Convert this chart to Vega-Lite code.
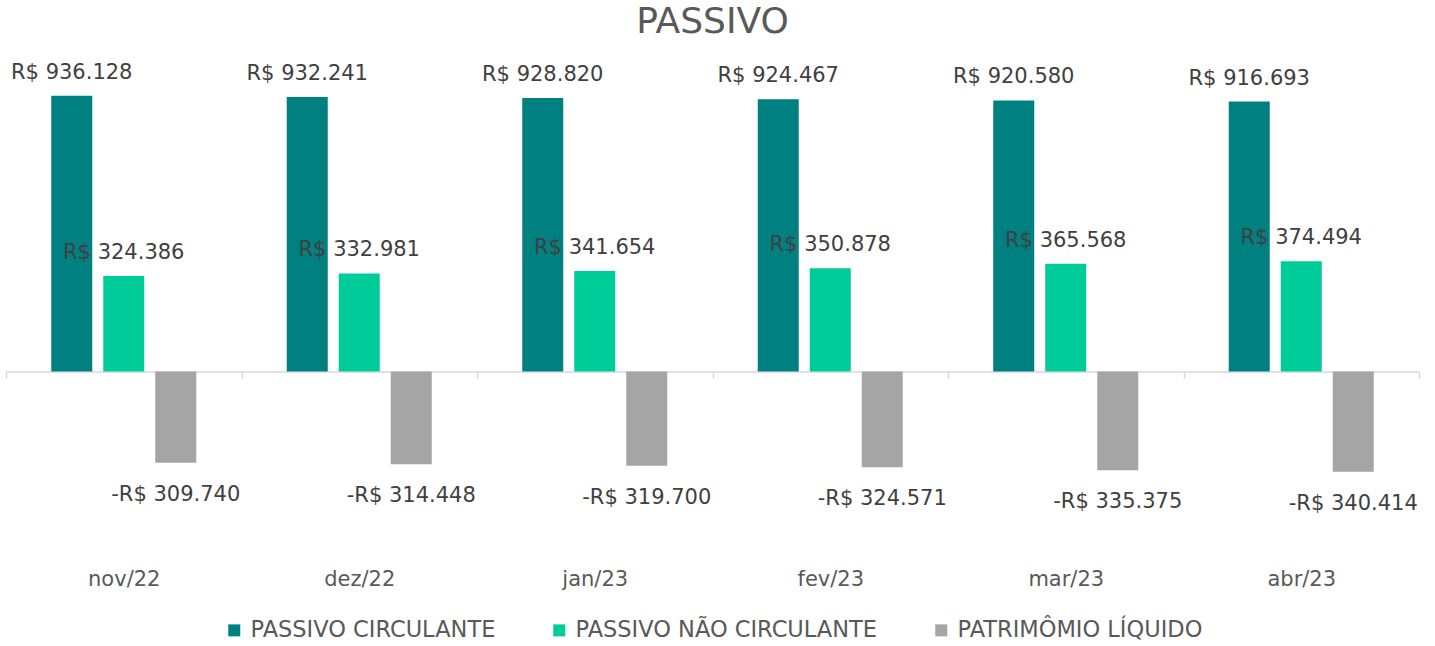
{
  "$schema": "https://vega.github.io/schema/vega-lite/v6.json",
  "autosize": {"type": "none"},
  "width": 1413,
  "height": 486,
  "padding": {"left": 6, "top": 77, "right": 16, "bottom": 83},
  "background": "white",
  "title": {"text": "PASSIVO", "fontSize": 36, "font": "DejaVu Sans", "fontWeight": "normal", "color": "#595959", "baseline": "alphabetic", "offset": -7, "anchor": "middle"},
  "config": {
    "view": {"stroke": null},
    "font": "DejaVu Sans",
    "legend": {"layout": {"bottom": {"anchor": "middle"}}}
  },
  "data": {"values": [
    {"mes": "nov/22", "serie": "PASSIVO CIRCULANTE", "valor": 936128, "rotulo": "R$ 936.128"},
    {"mes": "nov/22", "serie": "PASSIVO NÃO CIRCULANTE", "valor": 324386, "rotulo": "R$ 324.386"},
    {"mes": "nov/22", "serie": "PATRIMÔMIO LÍQUIDO", "valor": -309740, "rotulo": "-R$ 309.740"},
    {"mes": "dez/22", "serie": "PASSIVO CIRCULANTE", "valor": 932241, "rotulo": "R$ 932.241"},
    {"mes": "dez/22", "serie": "PASSIVO NÃO CIRCULANTE", "valor": 332981, "rotulo": "R$ 332.981"},
    {"mes": "dez/22", "serie": "PATRIMÔMIO LÍQUIDO", "valor": -314448, "rotulo": "-R$ 314.448"},
    {"mes": "jan/23", "serie": "PASSIVO CIRCULANTE", "valor": 928820, "rotulo": "R$ 928.820"},
    {"mes": "jan/23", "serie": "PASSIVO NÃO CIRCULANTE", "valor": 341654, "rotulo": "R$ 341.654"},
    {"mes": "jan/23", "serie": "PATRIMÔMIO LÍQUIDO", "valor": -319700, "rotulo": "-R$ 319.700"},
    {"mes": "fev/23", "serie": "PASSIVO CIRCULANTE", "valor": 924467, "rotulo": "R$ 924.467"},
    {"mes": "fev/23", "serie": "PASSIVO NÃO CIRCULANTE", "valor": 350878, "rotulo": "R$ 350.878"},
    {"mes": "fev/23", "serie": "PATRIMÔMIO LÍQUIDO", "valor": -324571, "rotulo": "-R$ 324.571"},
    {"mes": "mar/23", "serie": "PASSIVO CIRCULANTE", "valor": 920580, "rotulo": "R$ 920.580"},
    {"mes": "mar/23", "serie": "PASSIVO NÃO CIRCULANTE", "valor": 365568, "rotulo": "R$ 365.568"},
    {"mes": "mar/23", "serie": "PATRIMÔMIO LÍQUIDO", "valor": -335375, "rotulo": "-R$ 335.375"},
    {"mes": "abr/23", "serie": "PASSIVO CIRCULANTE", "valor": 916693, "rotulo": "R$ 916.693"},
    {"mes": "abr/23", "serie": "PASSIVO NÃO CIRCULANTE", "valor": 374494, "rotulo": "R$ 374.494"},
    {"mes": "abr/23", "serie": "PATRIMÔMIO LÍQUIDO", "valor": -340414, "rotulo": "-R$ 340.414"}
  ]},
  "encoding": {
    "x": {
      "field": "mes", "type": "nominal", "sort": null,
      "scale": {"paddingInner": 0, "paddingOuter": 0},
      "axis": {
        "title": null, "orient": "bottom", "offset": -191.5,
        "domainColor": "#d9d9d9", "domainWidth": 1.5,
        "tickColor": "#d9d9d9", "tickWidth": 1.5, "tickSize": 7, "tickBand": "extent",
        "labelFontSize": 21, "labelColor": "#595959", "labelFont": "DejaVu Sans",
        "labelBaseline": "alphabetic", "labelPadding": 207, "labelAngle": 0
      }
    },
    "xOffset": {
      "field": "serie", "type": "nominal",
      "scale": {"domain": ["PASSIVO CIRCULANTE", "PASSIVO NÃO CIRCULANTE", "PATRIMÔMIO LÍQUIDO"], "paddingInner": 0.2115, "paddingOuter": 0.87}
    },
    "y": {
      "field": "valor", "type": "quantitative",
      "scale": {"domain": [-650000, 1000000], "nice": false, "zero": true},
      "axis": null
    }
  },
  "layer": [
    {
      "mark": {"type": "bar"},
      "encoding": {
        "color": {
          "field": "serie", "type": "nominal",
          "scale": {"domain": ["PASSIVO CIRCULANTE", "PASSIVO NÃO CIRCULANTE", "PATRIMÔMIO LÍQUIDO"], "range": ["#008080", "#00cc99", "#a5a5a5"]},
          "legend": {
            "title": null, "orient": "bottom", "direction": "horizontal",
            "symbolType": "square", "symbolSize": 144, "symbolStrokeWidth": 0,
            "labelFontSize": 22.5, "labelColor": "#595959", "labelFont": "DejaVu Sans",
            "labelOffset": 5, "columnPadding": 52, "offset": 29, "labelLimit": 400
          }
        }
      }
    },
    {
      "transform": [{"filter": "datum.valor >= 0"}],
      "mark": {"type": "text", "fontSize": 21, "color": "#404040", "baseline": "alphabetic", "dy": -17, "font": "DejaVu Sans"},
      "encoding": {"text": {"field": "rotulo"}}
    },
    {
      "transform": [{"filter": "datum.valor < 0"}],
      "mark": {"type": "text", "fontSize": 21, "color": "#404040", "baseline": "alphabetic", "dy": 38, "font": "DejaVu Sans"},
      "encoding": {"text": {"field": "rotulo"}}
    }
  ]
}
